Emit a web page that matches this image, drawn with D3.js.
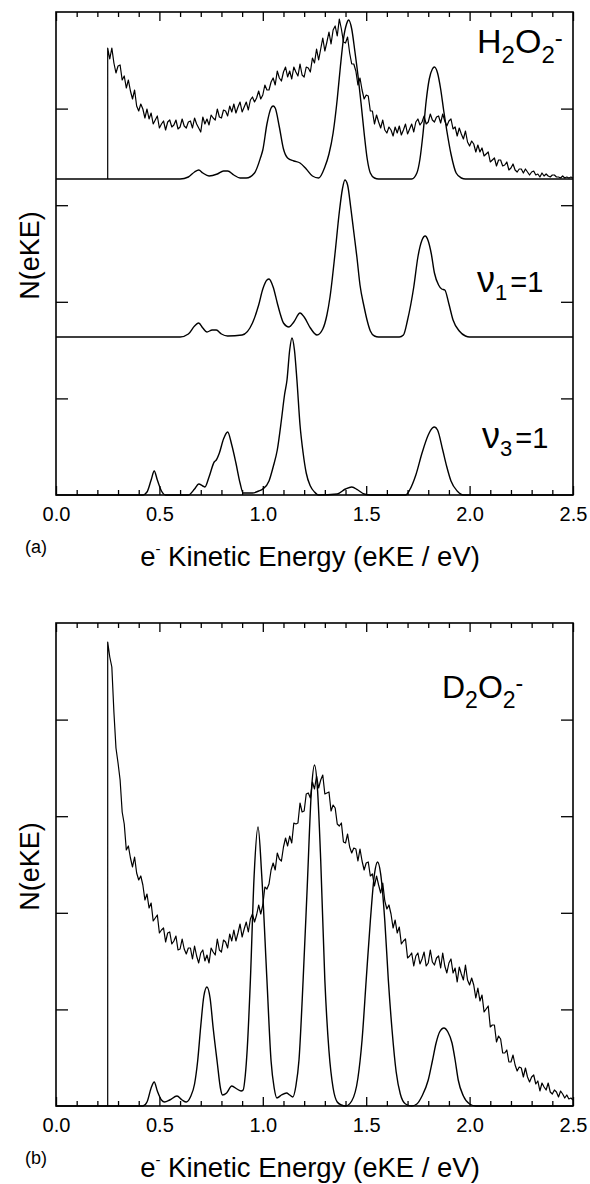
<!DOCTYPE html>
<meta charset="utf-8">
<style>
body {
  margin: 0;
  background-color: #fff;
}
text {
  font-family: "Liberation Sans", Arial, Helvetica, sans-serif;
  fill: #000;
}
.axis .domain {
  display: none;
}
.axis line {
  stroke: #000;
  stroke-width: 1.3px;
}
.axis text {
  font-family: "Liberation Sans", Arial, sans-serif;
  font-size: 20px;
  fill: #000;
}
.frame {
  fill: none;
  stroke: #000;
  stroke-width: 1.6px;
}
.exp {
  fill: none;
  stroke: #000;
  stroke-width: 1.2px;
  stroke-linejoin: round;
}
.sim {
  fill: none;
  stroke: #000;
  stroke-width: 1.4px;
}
</style>
<svg width="590" height="1184"></svg>

<script src="https://cdn.jsdelivr.net/npm/d3@7/dist/d3.min.js"></script>
<script>
// ---- data (N in arbitrary counts, eKE in eV) ----
var majorTicks = [0, 0.5, 1.0, 1.5, 2.0, 2.5];
var minorTicks = [0.1, 0.2, 0.3, 0.4, 0.6, 0.7, 0.8, 0.9, 1.1, 1.2, 1.3, 1.4,
                  1.6, 1.7, 1.8, 1.9, 2.1, 2.2, 2.3, 2.4];
var yMax = 483;
var yTicks = [96.6, 193.2, 289.8, 386.4];

// stacked spectra offsets in panel (a): nu3, nu1, H2O2-
var offsetsA = [0, 158, 316];

// experimental spectra, sampled from threshold 0.25 eV every 0.01 eV
var expStart = 0.25, expStep = 0.01;

var h2o2Exp = [
  131,120,131,116,106,113,114,99,103,91,
  99,88,80,89,73,68,75,70,61,70,
  60,66,55,59,63,51,55,58,49,57,
  59,52,54,59,50,52,60,53,51,57,
  58,51,61,55,51,47,62,55,60,54,
  64,61,59,70,62,61,69,68,63,73,
  67,75,66,72,77,67,72,77,69,79,
  82,77,81,88,80,84,94,89,89,97,
  101,94,108,101,98,107,112,102,108,100,
  112,107,103,115,104,102,112,111,107,121,
  116,130,119,130,141,128,137,147,135,149,
  153,143,160,150,137,136,142,126,115,115,
  108,94,101,89,80,84,83,68,68,55,
  64,57,51,59,49,46,52,49,43,52,
  46,53,44,49,55,45,50,55,47,57,
  60,54,57,63,55,57,65,59,57,62,
  63,56,65,58,53,58,60,50,52,43,
  51,45,40,48,37,33,38,35,27,34,
  27,31,23,25,27,17,19,21,13,19,
  19,13,14,17,9,11,15,9,7,10,
  10,6,10,7,4,7,8,4,5,2,
  6,3,5,3,2,4,4,2,2,1,
  3,1,2,1,2,1
];

var d2o2Exp = [
  464,449,439,394,358,343,326,294,282,256,
  260,248,239,249,233,226,230,221,206,212,
  198,203,185,188,191,173,176,178,164,173,
  174,162,165,170,156,157,167,157,152,158,
  158,147,160,150,143,153,156,145,151,143,
  158,154,151,167,156,154,166,164,158,172,
  165,176,165,173,182,169,177,184,174,187,
  192,184,191,201,192,201,219,217,222,236,
  243,236,253,247,245,259,268,260,270,263,
  283,282,283,303,294,295,312,313,308,324,
  317,330,318,326,331,312,313,314,295,301,
  298,282,280,283,264,263,272,259,253,258,
  257,245,257,245,236,243,244,230,232,220,
  230,221,213,223,205,197,201,192,178,186,
  173,179,162,165,167,148,150,153,140,150,
  153,142,147,154,140,143,156,144,141,148,
  150,138,153,140,133,143,147,133,138,124,
  139,132,126,141,126,121,128,121,108,118,
  105,111,94,97,100,79,81,81,64,70,
  67,53,53,56,44,44,51,41,35,39,
  38,29,38,29,24,29,31,22,25,15,
  23,19,16,23,14,12,16,14,9,15,
  12,8,11,7,8,6
];

// simulated spectra [eKE, N]
var h2o2Sim = [[0,0],[0.60,0],[0.64,2],[0.67,7],[0.69,9],[0.71,6],[0.74,3],[0.78,5],[0.81,8],[0.83,8],
  [0.86,4],[0.89,1],[0.92,1],[0.96,6],[0.99,22],[1.00,29],[1.02,55],[1.04,71],[1.05,73],[1.06,71],
  [1.08,52],[1.10,30],[1.12,21],[1.15,18],[1.18,16],[1.21,10],[1.24,3],[1.27,1],[1.30,12],[1.32,25],
  [1.34,46],[1.36,80],[1.375,112],[1.39,140],[1.405,155],[1.415,159],[1.43,150],[1.445,128],[1.46,104],
  [1.475,76],[1.49,46],[1.505,20],[1.52,6],[1.54,1],[1.56,0],[1.72,0],[1.745,6],[1.76,20],[1.775,46],
  [1.79,78],[1.805,100],[1.82,110],[1.83,112],[1.845,106],[1.86,90],[1.875,68],[1.89,48],[1.91,25],
  [1.935,6],[1.96,1],[1.98,0],[2.5,0]];

var nu1Sim = [[0,0],[0.60,0],[0.64,3],[0.67,11],[0.69,14],[0.71,9],[0.73,5],[0.755,7],[0.775,7],[0.80,3],
  [0.83,1],[0.90,2],[0.95,14],[0.98,32],[1.00,48],[1.02,57],[1.03,58],[1.05,50],[1.07,34],[1.083,24],
  [1.10,14],[1.127,10],[1.15,15],[1.18,24],[1.20,20],[1.23,9],[1.262,2],[1.29,8],[1.31,22],[1.325,40],
  [1.35,85],[1.37,125],[1.385,148],[1.397,157],[1.41,152],[1.425,130],[1.44,105],[1.455,80],[1.47,52],
  [1.49,30],[1.504,17],[1.52,6],[1.54,1],[1.56,0],[1.66,0],[1.68,2],[1.70,17],[1.73,50],[1.75,80],
  [1.77,97],[1.785,101],[1.80,96],[1.815,83],[1.83,64],[1.85,52],[1.865,48],[1.88,47],[1.90,33],
  [1.92,17],[1.95,6],[1.98,1],[2.00,0],[2.5,0]];

var nu3Sim = [[0,0],[0.42,0],[0.44,3],[0.46,15],[0.475,24],[0.49,15],[0.51,4],[0.53,0],[0.64,0],[0.67,6],
  [0.69,11],[0.71,9],[0.72,8],[0.74,18],[0.765,33],[0.775,35],[0.79,42],[0.81,56],[0.83,63],[0.85,50],
  [0.87,32],[0.89,12],[0.905,2],[0.95,2],[0.98,4],[1.00,6],[1.03,14],[1.05,28],[1.07,45],[1.09,75],
  [1.105,100],[1.117,115],[1.13,145],[1.141,157],[1.153,145],[1.165,115],[1.18,70],[1.195,42],[1.21,22],
  [1.23,9],[1.25,3],[1.27,0],[1.36,1],[1.40,6],[1.43,8],[1.46,5],[1.49,1],[1.52,0],[1.69,0],[1.71,5],
  [1.74,20],[1.77,42],[1.80,60],[1.82,67],[1.83,68],[1.845,65],[1.87,45],[1.89,28],[1.91,14],[1.94,4],
  [1.97,0],[2.5,0]];

var d2o2Sim = [[0,0],[0.42,0],[0.44,4],[0.46,18],[0.475,24],[0.49,15],[0.51,6],[0.525,4],[0.55,6],[0.585,10],
  [0.61,6],[0.63,4],[0.65,9],[0.67,22],[0.685,45],[0.70,80],[0.715,110],[0.73,119],[0.745,108],[0.76,78],
  [0.78,43],[0.795,18],[0.805,11],[0.825,13],[0.85,20],[0.875,17],[0.895,15],[0.905,16],[0.915,30],
  [0.925,58],[0.94,126],[0.958,230],[0.977,279],[0.995,230],[1.02,126],[1.04,45],[1.055,18],[1.068,8],
  [1.09,11],[1.115,13],[1.13,11],[1.145,9],[1.16,20],[1.175,46],[1.195,126],[1.215,220],[1.235,315],
  [1.25,341],[1.265,315],[1.28,246],[1.30,126],[1.32,55],[1.34,18],[1.36,4],[1.38,1],[1.40,0],[1.43,5],
  [1.46,28],[1.48,66],[1.50,126],[1.52,185],[1.54,232],[1.555,244],[1.57,232],[1.59,185],[1.607,126],
  [1.625,76],[1.645,34],[1.665,12],[1.69,2],[1.72,0],[1.745,2],[1.77,10],[1.80,26],[1.82,45],[1.838,63],
  [1.855,74],[1.876,78],[1.895,74],[1.915,63],[1.93,46],[1.945,26],[1.97,10],[2.00,2],[2.03,0],[2.5,0]];

// ---- drawing ----
var svg = d3.select("svg"),
    margin = {left: 56},
    width = 517,
    height = 483;

var x = d3.scaleLinear().domain([0, 2.5]).range([0, width]);
var y = d3.scaleLinear().domain([0, yMax]).range([height, 0]);

function expPoints(vals) {
  var pts = [[expStart, 0]];
  vals.forEach(function(v, i) { pts.push([expStart + i * expStep, v]); });
  return pts;
}

function drawPanel(top, letter, traces) {
  var g = svg.append("g").attr("transform", "translate(" + margin.left + "," + top + ")");

  traces.forEach(function(t) {
    var line = d3.line()
      .x(function(d) { return x(d[0]); })
      .y(function(d) { return y(d[1] + t.offset); })
      .curve(t.cls == "sim" ? d3.curveMonotoneX : d3.curveLinear);
    g.append("path").datum(t.pts).attr("class", t.cls).attr("d", line);
  });

  // ticks point inward on all four sides
  g.append("g").attr("class", "axis").attr("transform", "translate(0," + height + ")")
    .call(d3.axisBottom(x).tickValues(minorTicks).tickSize(-5).tickFormat(""));
  g.append("g").attr("class", "axis").attr("transform", "translate(0," + height + ")")
    .call(d3.axisBottom(x).tickValues(majorTicks).tickSize(-9).tickPadding(12).tickFormat(d3.format(".1f")));
  g.append("g").attr("class", "axis")
    .call(d3.axisTop(x).tickValues(minorTicks).tickSize(-5).tickFormat(""));
  g.append("g").attr("class", "axis")
    .call(d3.axisTop(x).tickValues(majorTicks).tickSize(-9).tickFormat(""));
  g.append("g").attr("class", "axis")
    .call(d3.axisLeft(y).tickValues(yTicks).tickSize(-12).tickFormat(""));
  g.append("g").attr("class", "axis").attr("transform", "translate(" + width + ",0)")
    .call(d3.axisRight(y).tickValues(yTicks).tickSize(-12).tickFormat(""));

  g.append("rect").attr("class", "frame")
    .attr("width", width).attr("height", height);

  g.append("text")
    .attr("transform", "translate(-17," + (height / 2 + 2) + ") rotate(-90)")
    .attr("text-anchor", "middle")
    .style("font-size", "27px")
    .text("N(eKE)");

  var title = g.append("text")
    .attr("x", 254).attr("y", height + 71)
    .attr("text-anchor", "middle")
    .style("font-size", "27.5px");
  title.append("tspan").text("e");
  title.append("tspan").attr("dy", -12).style("font-size", "15px").text("-");
  title.append("tspan").attr("dy", 12).text(" Kinetic Energy (eKE / eV)");

  g.append("text")
    .attr("x", -31).attr("y", height + 58)
    .style("font-size", "18px")
    .text("(" + letter + ")");

  return g;
}

var gA = drawPanel(12, "a", [
  {pts: nu3Sim, offset: offsetsA[0], cls: "sim"},
  {pts: nu1Sim, offset: offsetsA[1], cls: "sim"},
  {pts: h2o2Sim, offset: offsetsA[2], cls: "sim"},
  {pts: expPoints(h2o2Exp), offset: offsetsA[2], cls: "exp"}
]);

var gB = drawPanel(623, "b", [
  {pts: d2o2Sim, offset: 0, cls: "sim"},
  {pts: expPoints(d2o2Exp), offset: 0, cls: "exp"}
]);

// species labels
function species(g, xp, yp, letter, size, sub) {
  var t = g.append("text").attr("x", xp).attr("y", yp).style("font-size", size + "px");
  t.append("tspan").text(letter);
  t.append("tspan").attr("dy", 10).style("font-size", sub + "px").text("2");
  t.append("tspan").attr("dy", -10).text("O");
  t.append("tspan").attr("dy", 10).style("font-size", sub + "px").text("2");
  t.append("tspan").attr("dy", -17).style("font-size", sub + "px").text("-");
}
species(gA, 421, 41, "H", 34, 24);
species(gB, 386, 75, "D", 32, 23);

function vib(g, xp, yp, n) {
  var t = g.append("text").attr("x", xp).attr("y", yp).style("font-size", "29px");
  t.append("tspan").style("font-size", "36px").style("font-weight", "300").text("\u03bd");
  t.append("tspan").attr("dy", 8).style("font-size", "22px").text(n);
  t.append("tspan").attr("dy", -8).attr("dx", 3).text("=1");
}
vib(gA, 421, 280, "1");
vib(gA, 426, 436, "3");
</script>
